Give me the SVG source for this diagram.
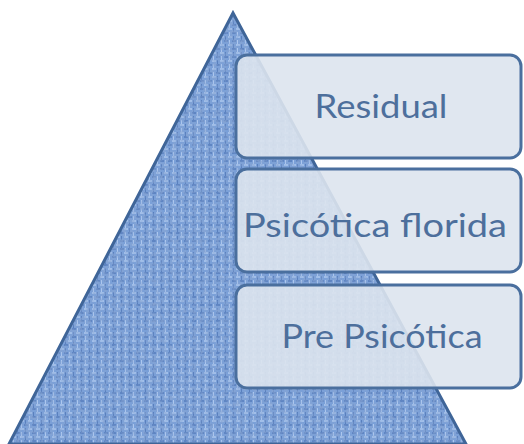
<svg xmlns="http://www.w3.org/2000/svg" width="524" height="444" viewBox="0 0 524 444">
  <defs>
    <pattern id="weave" width="8" height="8" patternUnits="userSpaceOnUse">
      <rect width="8" height="8" fill="#7aa0d8"/>
      <rect x="0" y="0" width="4" height="2" fill="#5e85c2"/>
      <rect x="4" y="4" width="4" height="2" fill="#a2bfe9"/>
      <rect x="5" y="0" width="1" height="4" fill="#adc7ee"/>
      <rect x="1" y="4" width="1" height="4" fill="#5a80bd"/>
    </pattern>
    <filter id="grain" x="0" y="0" width="100%" height="100%">
      <feTurbulence type="fractalNoise" baseFrequency="0.3" numOctaves="2" seed="3" result="n"/>
      <feColorMatrix in="n" type="matrix" values="0 0 0 0 0.25  0 0 0 0 0.38  0 0 0 0 0.65  0 0 0 -1.6 1.05" result="c"/>
      <feComposite in="c" in2="SourceGraphic" operator="in" result="m"/>
      <feMerge><feMergeNode in="SourceGraphic"/><feMergeNode in="m"/></feMerge>
    </filter>
  </defs>
  <style>
    .box { fill: #dde4ee; fill-opacity: 0.9; stroke: #4a6f9e; stroke-width: 3; }
    .lbl { font-family: Lato, "Open Sans", "Liberation Sans", sans-serif; font-size: 32px; fill: #4d6f9c; text-anchor: middle; }
  </style>
  <rect width="524" height="444" fill="#ffffff"/>
  <g id="pyramid">
    <polygon points="233,13 9,444 466,444" fill="url(#weave)" filter="url(#grain)"/>
    <polygon points="233,13 9,444 466,444" fill="none" stroke="#3f6598" stroke-width="3" stroke-linejoin="miter"/>
  </g>
  <g id="residual">
    <rect class="box" x="236" y="55" width="285" height="103" rx="11"/>
    <text class="lbl" x="381" y="118" textLength="133" lengthAdjust="spacingAndGlyphs">Residual</text>
  </g>
  <g id="psicotica-florida">
    <rect class="box" x="236" y="169" width="285" height="103" rx="11"/>
    <text class="lbl" x="375" y="237" textLength="264" lengthAdjust="spacingAndGlyphs">Psicótica florida</text>
  </g>
  <g id="pre-psicotica">
    <rect class="box" x="236" y="285" width="285" height="103" rx="11"/>
    <text class="lbl" x="382" y="348" textLength="201" lengthAdjust="spacingAndGlyphs">Pre Psicótica</text>
  </g>
</svg>
